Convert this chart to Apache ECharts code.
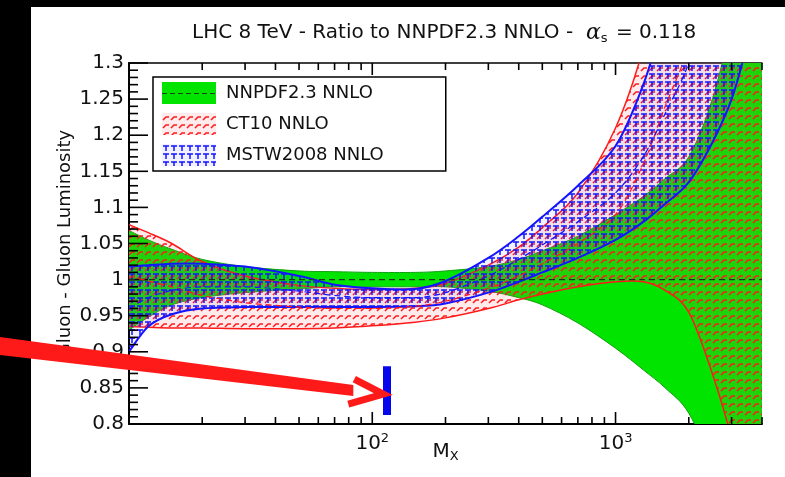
<!DOCTYPE html>
<html><head><meta charset="utf-8">
<script src="https://cdn.jsdelivr.net/npm/echarts@6/dist/echarts.min.js"></script>
<style>
html,body{margin:0;padding:0;background:#000;width:785px;height:477px;overflow:hidden}
#chart{position:absolute;left:0;top:0;width:785px;height:477px}
</style></head><body>
<div id="chart"></div>
<script>
// ---- data ----
const massGeV    = [10, 12, 15, 20, 30, 50, 70, 100, 150, 200, 300, 400, 500, 700, 1000, 1300, 1600, 2000, 2500, 3000, 3500, 4000];
const nnpdfUpper = [1.068,1.055,1.042,1.028,1.018,1.012,1.011,1.010,1.010,1.012,1.018,1.028,1.040,1.060,1.090,1.115,1.140,1.170,1.250,1.360,1.500,1.650];
const nnpdfLower = [0.930,0.948,0.965,0.975,0.982,0.987,0.990,0.990,0.990,0.990,0.984,0.975,0.965,0.940,0.905,0.875,0.850,0.815,0.740,0.650,0.550,0.450];
const nnpdfCentral = [1,1,1,1,1,1,1,1,1,1,1,1,1,1,1,1,1,1,1,1,1,1];
const ct10Upper  = [1.076,1.065,1.050,1.025,1.005,0.992,0.988,0.986,0.988,0.995,1.020,1.045,1.072,1.120,1.210,1.320,1.450,1.600,1.800,2.000,2.200,2.400];
const ct10Lower  = [0.935,0.934,0.933,0.933,0.932,0.932,0.933,0.936,0.941,0.947,0.960,0.972,0.980,0.990,0.997,0.997,0.985,0.955,0.870,0.780,0.680,0.580];
const ct10Central= [1.005,0.998,0.990,0.978,0.968,0.962,0.960,0.960,0.963,0.970,0.988,1.005,1.022,1.050,1.090,1.160,1.240,1.320,1.420,1.520,1.620,1.720];
const mstwUpper  = [1.018,1.020,1.022,1.022,1.018,1.005,0.993,0.988,0.987,0.998,1.030,1.060,1.087,1.130,1.185,1.270,1.370,1.500,1.700,1.900,2.100,2.300];
const mstwLower  = [0.900,0.935,0.952,0.960,0.962,0.962,0.962,0.962,0.963,0.967,0.982,0.997,1.010,1.030,1.055,1.080,1.105,1.135,1.190,1.250,1.330,1.420];
const mstwCentral= [0.960,0.975,0.985,0.990,0.990,0.984,0.978,0.975,0.975,0.982,1.005,1.028,1.048,1.080,1.120,1.170,1.230,1.300,1.420,1.550,1.700,1.850];
const seriesNames = ['NNPDF2.3 NNLO', 'CT10 NNLO', 'MSTW2008 NNLO'];
const yTickLabels = [0.8, 0.85, 0.9, 0.95, 1, 1.05, 1.1, 1.15, 1.2, 1.25, 1.3];
const xMajorTicks = [100, 1000];
const xMinorTicks = [20,30,40,50,60,70,80,90,200,300,400,500,600,700,800,900,2000,3000,4000];
// annotation (Higgs-mass marker and arrow), in data units
const markerMass = 115, markerRange = [0.8125, 0.88];
const arrowTip = [111, 0.8415];

const X_MIN = 10, X_MAX = 4000, Y_MIN = yTickLabels[0], Y_MAX = yTickLabels[yTickLabels.length - 1];
// minor y ticks every 0.01 between the labelled ones
const yMinorTicks = [];
for (let k = 1; k < 50; k++) if (k % 5) yMinorTicks.push(+(Y_MIN + k * 0.01).toFixed(2));

// ---- styling helpers ----
const GREEN = '#00e400', RED = '#ff1a1a', BLUE = '#1414ff';
function tile(kind){
  const c = document.createElement('canvas'); c.width = 8; c.height = 8;
  const g = c.getContext('2d');
  if (kind === 'red') {
    g.fillStyle = 'rgba(255,90,90,0.12)'; g.fillRect(0,0,8,8);
    g.strokeStyle = RED; g.lineWidth = 1.5; g.beginPath();
    g.moveTo(1,7); g.lineTo(4,4); g.lineTo(7,4); g.stroke();
  } else {
    g.fillStyle = 'rgba(80,80,255,0.08)'; g.fillRect(0,0,8,8);
    g.strokeStyle = BLUE; g.lineWidth = 1.5; g.beginPath();
    g.moveTo(1,2); g.lineTo(7,2); g.moveTo(4,2); g.lineTo(4,7); g.stroke();
  }
  return c;
}
const redTile = tile('red'), blueTile = tile('blue');
function legendIcon(kind){
  const c = document.createElement('canvas'); c.width = 59; c.height = 22;
  const g = c.getContext('2d');
  if (kind === 'green') {
    g.fillStyle = GREEN; g.fillRect(0,0,54,22);
    g.strokeStyle = '#1a401a'; g.lineWidth = 1; g.setLineDash([5,3]);
    g.beginPath(); g.moveTo(0,11.5); g.lineTo(54,11.5); g.stroke();
  } else {
    g.fillStyle = g.createPattern(kind === 'red' ? redTile : blueTile, 'repeat');
    g.fillRect(0,0,54,22);
  }
  return 'image://' + c.toDataURL();
}
// smooth (Catmull-Rom) path through pixel points
function curve(p, start){
  const f = v => v[0].toFixed(2) + ' ' + v[1].toFixed(2);
  let d = (start ? 'M' : 'L') + f(p[0]);
  for (let i = 0; i < p.length - 1; i++) {
    const p0 = p[i-1] || p[i], p1 = p[i], p2 = p[i+1], p3 = p[i+2] || p[i+1];
    const c1 = [p1[0] + (p2[0]-p0[0])/6, p1[1] + (p2[1]-p0[1])/6];
    const c2 = [p2[0] - (p3[0]-p1[0])/6, p2[1] - (p3[1]-p1[1])/6];
    d += ' C' + f(c1) + ' ' + f(c2) + ' ' + f(p2);
  }
  return d;
}
function band(name, up, lo, fill, edge, w){
  return {
    type:'custom', name:name, coordinateSystem:'cartesian2d', clip:true, silent:true,
    itemStyle:{color:edge},
    encode:{x:0, y:[1,2]},
    data: massGeV.map((m, i) => [m, lo[i], up[i]]),
    renderItem(params, api){
      if (params.dataIndex !== 0) return null;
      const n = massGeV.length, U = [], L = [];
      for (let j = 0; j < n; j++) {
        U.push(api.coord([api.value(0, j), api.value(2, j)]));
        L.push(api.coord([api.value(0, j), api.value(1, j)]));
      }
      const Lr = L.slice().reverse();
      const cs = params.coordSys;
      return {type:'group',
        clipPath:{type:'rect', shape:{x:cs.x, y:cs.y, width:cs.width, height:cs.height}},
        children:[
          {type:'path', shape:{pathData: curve(U, true) + ' ' + curve(Lr, false) + ' Z'}, style:{fill:fill, stroke:null}},
          {type:'path', shape:{pathData: curve(U, true)}, style:{fill:null, stroke:edge, lineWidth:w}},
          {type:'path', shape:{pathData: curve(L, true)}, style:{fill:null, stroke:edge, lineWidth:w}}
        ]};
    }
  };
}
function centre(arr, color){
  return {type:'line', data:massGeV.map((m, i) => [m, arr[i]]), smooth:0.3, symbol:'none', silent:true,
          lineStyle:{color:color, width:1.2, type:[6,4]}};
}

const FONT = 'DejaVu Sans';
const chart = echarts.init(document.getElementById('chart'), null, {renderer:'canvas'});
const xBase = {type:'log', logBase:10, min:X_MIN, max:X_MAX, gridIndex:0, splitLine:{show:false}, axisTick:{show:false}};
const option = {
  animation:false,
  backgroundColor:'#000',
  title:{
    text:'{t|LHC 8 TeV - Ratio to NNPDF2.3 NNLO -  }{a|α}{s|s}{t| = 0.118}',
    left:187, top:16,
    textStyle:{fontWeight:'normal', rich:{
      t:{fontFamily:FONT, fontSize:20, fontWeight:'normal', color:'#111'},
      a:{fontFamily:'DejaVu Serif', fontStyle:'italic', fontWeight:'normal', fontSize:22, color:'#111'},
      s:{fontFamily:FONT, fontSize:13, fontWeight:'normal', color:'#111', padding:[11,2,0,0]}
    }}
  },
  legend:{
    left:153, top:77, orient:'vertical', itemWidth:59, itemHeight:22, itemGap:9,
    padding:[5,62,5,9], borderColor:'#000', borderWidth:1.5, backgroundColor:'#fff',
    selectedMode:false,
    textStyle:{fontFamily:FONT, fontSize:18, color:'#111'},
    data:[
      {name:seriesNames[0], icon:legendIcon('green')},
      {name:seriesNames[1], icon:legendIcon('red')},
      {name:seriesNames[2], icon:legendIcon('blue')}
    ]
  },
  grid:{left:129, right:23, top:63, bottom:53, containLabel:false, outerBoundsMode:'none'},
  xAxis:[
    Object.assign({}, xBase, {
      position:'bottom',
      name:'{m|M}{x|X}', nameLocation:'middle', nameGap:17, nameMoveOverlap:false,
      nameTextStyle:{rich:{m:{fontFamily:FONT, fontSize:20, color:'#111'},
                           x:{fontFamily:FONT, fontSize:13, color:'#111', padding:[9,0,0,0]}}},
      axisLine:{show:true, lineStyle:{color:'#000', width:2}},
      axisLabel:{show:true, margin:8, customValues:xMajorTicks,
        formatter:v => { const e = Math.round(Math.log10(v)); return (e === 2 || e === 3) ? '{b|10}{p|' + e + '}' : ''; },
        rich:{b:{fontFamily:FONT, fontSize:20, color:'#111'},
              p:{fontFamily:FONT, fontSize:13, color:'#111', padding:[0,0,10,0]}}}
    }),
    Object.assign({}, xBase, {
      position:'top', axisLine:{show:true, lineStyle:{color:'#000', width:1.5}}, axisLabel:{show:false}
    })
  ],
  yAxis:{
    type:'value', min:Y_MIN, max:Y_MAX, interval:0.05,
    name:'Gluon - Gluon Luminosity', nameLocation:'middle', nameGap:55, nameMoveOverlap:false,
    nameTextStyle:{fontFamily:FONT, fontSize:18, color:'#111'},
    axisLine:{show:true, lineStyle:{color:'#000', width:2}},
    axisTick:{show:false}, splitLine:{show:false},
    axisLabel:{fontFamily:FONT, fontSize:20, color:'#111', margin:5,
      formatter:v => String(+v.toFixed(2))}
  },
  series:[
    band(seriesNames[0], nnpdfUpper, nnpdfLower, GREEN, '#10a010', 1),
    band(seriesNames[1], ct10Upper, ct10Lower, {image:redTile, repeat:'repeat'}, RED, 1.5),
    band(seriesNames[2], mstwUpper, mstwLower, {image:blueTile, repeat:'repeat'}, BLUE, 2),
    Object.assign(centre(nnpdfCentral, '#203020'), {
      markLine:{silent:true, symbol:['none','none'], label:{show:false},
        lineStyle:{color:'#0505ee', width:8, type:'solid'},
        data:[[{coord:[markerMass, markerRange[0]]}, {coord:[markerMass, markerRange[1]]}]]}
    }),
    centre(ct10Central, RED),
    centre(mstwCentral, BLUE)
  ]
};
chart.setOption(option);

// frame ticks (inside), placed through the axes' own scales, drawn as thin filled rects
const toPx = v => chart.convertToPixel({xAxisIndex:0, yAxisIndex:0}, v);
const graphics = [
  // white paper panel inside the black border (drawn in the canvas itself, beneath everything)
  {type:'rect', z:-100, silent:true, shape:{x:31, y:7, width:754, height:470}, style:{fill:'#fff'}}
];
const TW = 1.6;
xMajorTicks.map(m => [m, 12]).concat(xMinorTicks.map(m => [m, 7])).forEach(([m, len]) => {
  const b = toPx([m, Y_MIN]), t = toPx([m, Y_MAX]);
  graphics.push({type:'rect', z:3, silent:true, shape:{x:b[0] - TW/2, y:b[1] - len, width:TW, height:len}, style:{fill:'#000'}});
  graphics.push({type:'rect', z:3, silent:true, shape:{x:t[0] - TW/2, y:t[1], width:TW, height:len}, style:{fill:'#000'}});
});
yTickLabels.map(v => [v, 19]).concat(yMinorTicks.map(v => [v, 9])).forEach(([v, len]) => {
  const p = toPx([X_MIN, v]);
  graphics.push({type:'rect', z:3, silent:true, shape:{x:p[0], y:p[1] - TW/2, width:len, height:TW}, style:{fill:'#000'}});
});
const tip = toPx(arrowTip);
const tx = tip[0], ty = tip[1];
graphics.push(
  {type:'polygon', z:100, shape:{points:[[0,ty-57],[0,ty-39],[tx-30,ty+2],[tx-30,ty-9]]}, style:{fill:RED}},
  {type:'polyline', z:100, shape:{points:[[tx-29,ty-15],[tx,ty],[tx-35,ty+10]]},
   style:{stroke:RED, lineWidth:7, fill:null, lineJoin:'miter'}}
);
chart.setOption({graphic:graphics});
</script>
</body></html>
